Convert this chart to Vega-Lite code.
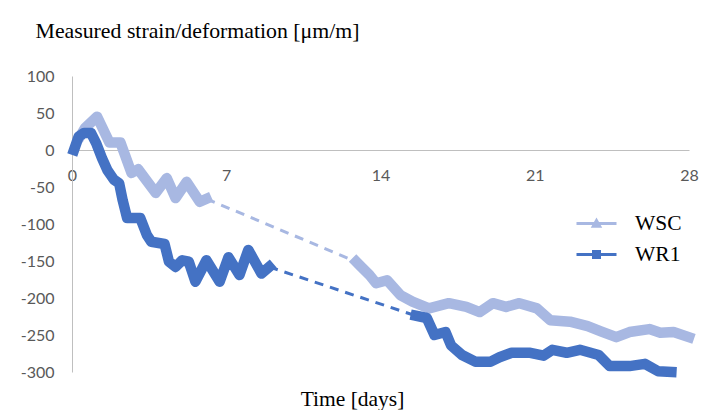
{
  "$schema": "https://vega.github.io/schema/vega-lite/v6.json",
  "autosize": "none",
  "width": 617,
  "height": 296,
  "padding": {"left": 72, "top": 76, "right": 13, "bottom": 38},
  "config": {"view": {"stroke": null}, "axis": {"grid": false, "ticks": false, "domainColor": "#BFBFBF", "labelColor": "#595959", "labelFont": "Lato", "labelFontSize": 16}},
  "data": {"values": [
    {"s": "WSC", "p": "a", "d": 0.4, "v": 20},
    {"s": "WSC", "p": "a", "d": 0.6, "v": 30},
    {"s": "WSC", "p": "a", "d": 1.14, "v": 45},
    {"s": "WSC", "p": "a", "d": 1.7, "v": 10},
    {"s": "WSC", "p": "a", "d": 2.2, "v": 10},
    {"s": "WSC", "p": "a", "d": 2.7, "v": -31},
    {"s": "WSC", "p": "a", "d": 3.0, "v": -26},
    {"s": "WSC", "p": "a", "d": 3.8, "v": -58},
    {"s": "WSC", "p": "a", "d": 4.3, "v": -38},
    {"s": "WSC", "p": "a", "d": 4.7, "v": -65},
    {"s": "WSC", "p": "a", "d": 5.2, "v": -43},
    {"s": "WSC", "p": "a", "d": 5.8, "v": -70},
    {"s": "WSC", "p": "a", "d": 6.1, "v": -66},
    {"s": "WSC", "p": "b", "d": 12.9, "v": -151},
    {"s": "WSC", "p": "b", "d": 13.1, "v": -157},
    {"s": "WSC", "p": "b", "d": 13.5, "v": -169},
    {"s": "WSC", "p": "b", "d": 13.8, "v": -180},
    {"s": "WSC", "p": "b", "d": 14.3, "v": -176},
    {"s": "WSC", "p": "b", "d": 14.9, "v": -196},
    {"s": "WSC", "p": "b", "d": 15.45, "v": -205},
    {"s": "WSC", "p": "b", "d": 16.2, "v": -214},
    {"s": "WSC", "p": "b", "d": 17.1, "v": -207},
    {"s": "WSC", "p": "b", "d": 17.9, "v": -212},
    {"s": "WSC", "p": "b", "d": 18.5, "v": -219},
    {"s": "WSC", "p": "b", "d": 19.1, "v": -207},
    {"s": "WSC", "p": "b", "d": 19.7, "v": -212},
    {"s": "WSC", "p": "b", "d": 20.3, "v": -207},
    {"s": "WSC", "p": "b", "d": 21.1, "v": -214},
    {"s": "WSC", "p": "b", "d": 21.7, "v": -230},
    {"s": "WSC", "p": "b", "d": 22.6, "v": -232},
    {"s": "WSC", "p": "b", "d": 23.4, "v": -238},
    {"s": "WSC", "p": "b", "d": 24.0, "v": -245},
    {"s": "WSC", "p": "b", "d": 24.7, "v": -253},
    {"s": "WSC", "p": "b", "d": 25.3, "v": -246},
    {"s": "WSC", "p": "b", "d": 26.2, "v": -242},
    {"s": "WSC", "p": "b", "d": 26.7, "v": -247},
    {"s": "WSC", "p": "b", "d": 27.3, "v": -246},
    {"s": "WSC", "p": "b", "d": 28.0, "v": -253},
    {"s": "WSC", "p": "gap", "d": 6.1, "v": -66},
    {"s": "WSC", "p": "gap", "d": 12.9, "v": -151},
    {"s": "WR1", "p": "a", "d": 0.09, "v": 0},
    {"s": "WR1", "p": "a", "d": 0.3, "v": 18},
    {"s": "WR1", "p": "a", "d": 0.55, "v": 23},
    {"s": "WR1", "p": "a", "d": 0.86, "v": 23},
    {"s": "WR1", "p": "a", "d": 1.1, "v": 9},
    {"s": "WR1", "p": "a", "d": 1.36, "v": -11},
    {"s": "WR1", "p": "a", "d": 1.6, "v": -27},
    {"s": "WR1", "p": "a", "d": 1.9, "v": -40},
    {"s": "WR1", "p": "a", "d": 2.14, "v": -45},
    {"s": "WR1", "p": "a", "d": 2.3, "v": -68},
    {"s": "WR1", "p": "a", "d": 2.5, "v": -92},
    {"s": "WR1", "p": "a", "d": 3.1, "v": -92},
    {"s": "WR1", "p": "a", "d": 3.4, "v": -115},
    {"s": "WR1", "p": "a", "d": 3.6, "v": -124},
    {"s": "WR1", "p": "a", "d": 4.2, "v": -127},
    {"s": "WR1", "p": "a", "d": 4.4, "v": -151},
    {"s": "WR1", "p": "a", "d": 4.7, "v": -158},
    {"s": "WR1", "p": "a", "d": 5.0, "v": -149},
    {"s": "WR1", "p": "a", "d": 5.3, "v": -151},
    {"s": "WR1", "p": "a", "d": 5.6, "v": -178},
    {"s": "WR1", "p": "a", "d": 6.1, "v": -149},
    {"s": "WR1", "p": "a", "d": 6.7, "v": -178},
    {"s": "WR1", "p": "a", "d": 7.1, "v": -145},
    {"s": "WR1", "p": "a", "d": 7.6, "v": -169},
    {"s": "WR1", "p": "a", "d": 8.0, "v": -135},
    {"s": "WR1", "p": "a", "d": 8.6, "v": -167},
    {"s": "WR1", "p": "a", "d": 8.95, "v": -158},
    {"s": "WR1", "p": "b", "d": 15.6, "v": -224},
    {"s": "WR1", "p": "b", "d": 16.1, "v": -227},
    {"s": "WR1", "p": "b", "d": 16.45, "v": -250},
    {"s": "WR1", "p": "b", "d": 16.95, "v": -246},
    {"s": "WR1", "p": "b", "d": 17.2, "v": -264},
    {"s": "WR1", "p": "b", "d": 17.7, "v": -277},
    {"s": "WR1", "p": "b", "d": 18.3, "v": -286},
    {"s": "WR1", "p": "b", "d": 19.0, "v": -286},
    {"s": "WR1", "p": "b", "d": 19.4, "v": -280},
    {"s": "WR1", "p": "b", "d": 19.95, "v": -274},
    {"s": "WR1", "p": "b", "d": 20.8, "v": -274},
    {"s": "WR1", "p": "b", "d": 21.4, "v": -278},
    {"s": "WR1", "p": "b", "d": 21.8, "v": -270},
    {"s": "WR1", "p": "b", "d": 22.45, "v": -274},
    {"s": "WR1", "p": "b", "d": 23.05, "v": -270},
    {"s": "WR1", "p": "b", "d": 23.9, "v": -277},
    {"s": "WR1", "p": "b", "d": 24.4, "v": -292},
    {"s": "WR1", "p": "b", "d": 25.3, "v": -292},
    {"s": "WR1", "p": "b", "d": 26.0, "v": -289},
    {"s": "WR1", "p": "b", "d": 26.6, "v": -299},
    {"s": "WR1", "p": "b", "d": 27.2, "v": -300},
    {"s": "WR1", "p": "gap", "d": 8.95, "v": -158},
    {"s": "WR1", "p": "gap", "d": 15.6, "v": -224}
  ]},
  "encoding": {
    "x": {"field": "d", "type": "quantitative", "scale": {"domain": [0, 28], "nice": false, "zero": false},
      "axis": {"orient": "bottom", "offset": -222, "values": [0, 7, 14, 21, 28], "labelPadding": 17, "labelFlush": false,
        "title": "Time [days]", "titleFont": "Liberation Serif", "titleFontSize": 21.5, "titleFontWeight": "normal", "titleColor": "#000000",
        "titleX": 280, "titleY": 255, "titleAlign": "center", "titleBaseline": "alphabetic"}},
    "y": {"field": "v", "type": "quantitative", "scale": {"domain": [-300, 100], "nice": false},
      "axis": {"values": [-300, -250, -200, -150, -100, -50, 0, 50, 100], "labelPadding": 18,
        "labelExpr": "(datum.value < 0 ? '-' : '') + abs(datum.value)",
        "title": "Measured strain/deformation [μm/m]", "titleFont": "Liberation Serif", "titleFontSize": 21.8, "titleFontWeight": "normal", "titleColor": "#000000",
        "titleAngle": 0, "titleX": -37, "titleY": -39, "titleAlign": "left", "titleBaseline": "alphabetic"}},
    "color": {"field": "s", "type": "nominal", "scale": {"domain": ["WSC", "WR1"], "range": ["#A8B8E2", "#4472C4"]},
      "legend": {"orient": "none", "legendX": 513, "legendY": 136, "title": null, "padding": 0,
        "symbolSize": 400, "symbolStrokeWidth": 3, "labelFont": "Liberation Serif", "labelFontSize": 21.5, "labelColor": "#000000",
        "labelOffset": 27, "rowPadding": 9,
        "encode": {"symbols": {"update": {
          "shape": {"signal": "datum.value === 'WSC' ? 'M-2,0H2M-0.32,0.28L0,-0.3L0.32,0.28Z' : 'M-2,0H2M-0.3,-0.3H0.3V0.3H-0.3Z'"},
          "fill": {"signal": "scale('color', datum.value)"}}}}}}
  },
  "layer": [
    {"transform": [{"filter": "datum.s === 'WSC' && datum.p !== 'gap'"}],
     "mark": {"type": "line", "strokeWidth": 10.5, "strokeCap": "square", "strokeJoin": "round"},
     "encoding": {"detail": {"field": "p"}}},
    {"transform": [{"filter": "datum.s === 'WR1' && datum.p !== 'gap'"}],
     "mark": {"type": "line", "strokeWidth": 10.5, "strokeCap": "square", "strokeJoin": "round"},
     "encoding": {"detail": {"field": "p"}}},
    {"transform": [{"filter": "datum.p === 'gap'"}],
     "mark": {"type": "line", "strokeWidth": 3, "strokeDash": [9, 7]},
     "encoding": {"detail": {"field": "s"}}}
  ]
}
